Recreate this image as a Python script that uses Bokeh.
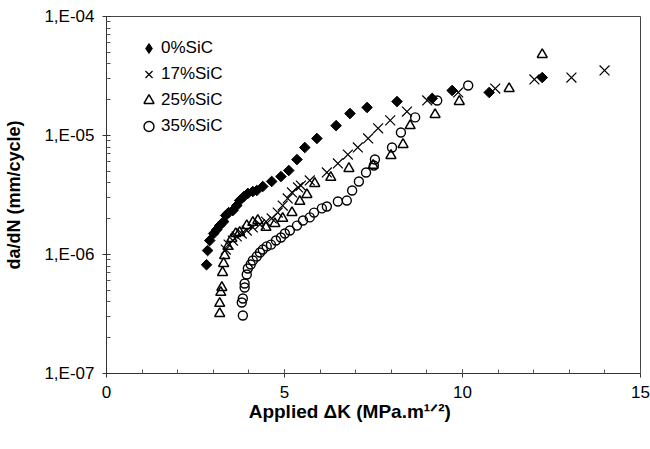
import math
from bokeh.plotting import figure
from bokeh.models import (Range1d, FixedTicker, CustomJSTickFormatter,
                          Legend, LegendItem, CDSView, IndexFilter)
from bokeh.embed import file_html
from bokeh.resources import INLINE

# ---- data ----
sic0_dk = [2.81, 2.84, 2.90, 3.01, 3.10, 3.18, 3.29, 3.35, 3.43, 3.55, 3.66, 3.74,
           3.86, 3.97, 4.11, 4.22, 4.39, 4.64, 4.90, 5.12, 5.35, 5.57, 5.91, 6.45,
           6.84, 7.32, 8.16, 9.15, 9.71, 10.75, 12.24]
sic0_dadn = [8.2e-7, 1.08e-6, 1.31e-6, 1.50e-6, 1.62e-6, 1.75e-6, 1.89e-6, 2.13e-6,
             2.25e-6, 2.34e-6, 2.58e-6, 2.84e-6, 3.07e-6, 3.26e-6, 3.38e-6, 3.45e-6,
             3.73e-6, 4.11e-6, 4.52e-6, 5.08e-6, 6.28e-6, 7.93e-6, 9.44e-6, 1.21e-5,
             1.53e-5, 1.72e-5, 1.93e-5, 2.05e-5, 2.39e-5, 2.30e-5, 3.07e-5]

sic17_dk = [3.35, 3.43, 3.55, 3.66, 3.80, 3.94, 4.11, 4.31, 4.48, 4.64, 4.81, 4.95,
            5.09, 5.21, 5.38, 5.46, 5.71, 6.19, 6.50, 6.78, 7.06, 7.35, 7.63, 7.97,
            8.44, 9.01, 9.88, 10.92, 12.02, 13.06, 13.99]
sic17_dadn = [1.10e-6, 1.21e-6, 1.31e-6, 1.42e-6, 1.50e-6, 1.59e-6, 1.69e-6, 1.79e-6,
              1.89e-6, 2.01e-6, 2.25e-6, 2.58e-6, 2.96e-6, 3.32e-6, 3.66e-6, 3.80e-6,
              4.19e-6, 4.89e-6, 5.82e-6, 6.92e-6, 7.93e-6, 9.44e-6, 1.15e-5, 1.34e-5,
              1.59e-5, 1.97e-5, 2.30e-5, 2.48e-5, 2.96e-5, 3.07e-5, 3.52e-5]

sic25_dk = [3.18, 3.18, 3.21, 3.24, 3.26, 3.29, 3.32, 3.41, 3.52, 3.63, 3.74, 3.94,
            4.11, 4.25, 4.48, 4.73, 4.95, 5.21, 5.43, 5.63, 5.85, 6.30, 6.81, 7.49,
            7.99, 8.33, 8.53, 9.23, 9.91, 11.31, 12.24]
sic25_dadn = [3.19e-7, 3.88e-7, 4.80e-7, 5.28e-7, 7.06e-7, 8.40e-7, 9.81e-7, 1.17e-6,
              1.36e-6, 1.50e-6, 1.53e-6, 1.75e-6, 1.86e-6, 1.93e-6, 1.69e-6, 1.82e-6,
              2.01e-6, 2.25e-6, 2.79e-6, 3.19e-6, 3.95e-6, 4.44e-6, 5.28e-6, 5.60e-6,
              6.79e-6, 8.40e-6, 1.21e-5, 1.50e-5, 1.93e-5, 2.48e-5, 4.79e-5]

sic35_dk = [3.83, 3.80, 3.83, 3.88, 3.88, 3.94, 3.97, 4.05, 4.11, 4.22, 4.31, 4.39,
            4.50, 4.62, 4.76, 4.90, 5.01, 5.15, 5.35, 5.52, 5.71, 5.83, 6.05, 6.19,
            6.50, 6.75, 6.90, 7.09, 7.29, 7.51, 7.54, 8.02, 8.27, 8.67, 9.29, 10.16]
sic35_dadn = [3.07e-7, 3.95e-7, 4.27e-7, 5.28e-7, 5.71e-7, 6.79e-7, 7.63e-7, 8.24e-7,
              8.91e-7, 9.62e-7, 1.04e-6, 1.10e-6, 1.17e-6, 1.21e-6, 1.31e-6, 1.39e-6,
              1.50e-6, 1.59e-6, 1.75e-6, 1.93e-6, 2.05e-6, 2.25e-6, 2.44e-6, 2.53e-6,
              2.79e-6, 2.84e-6, 3.45e-6, 4.11e-6, 4.89e-6, 5.60e-6, 6.28e-6, 7.93e-6,
              1.06e-5, 1.42e-5, 1.97e-5, 2.63e-5]

x_ticks = [0, 5, 10, 15]
y_ticks = [1e-7, 1e-6, 1e-5, 1e-4]
series_names = ["0%SiC", "17%SiC", "25%SiC", "35%SiC"]
x_title = "Applied \u0394K (MPa.m\u00b9\u141f\u00b2)"
y_title = "da/dN (mm/cycle)"

FONT = "Liberation Sans"

p = figure(width=650, height=449, x_range=Range1d(0, 15), y_range=Range1d(1e-7, 1e-4),
           y_axis_type="log", output_backend="svg", toolbar_location=None,
           min_border_left=106, min_border_right=10, min_border_top=16, min_border_bottom=76)

p.xgrid.visible = False
p.ygrid.visible = False
p.outline_line_color = "#444444"
p.background_fill_color = "white"
p.border_fill_color = "white"

p.xaxis.ticker = FixedTicker(ticks=x_ticks, minor_ticks=list(range(0, 16)))
p.yaxis.ticker = FixedTicker(ticks=y_ticks,
                             minor_ticks=[k * 10.0 ** e for e in (-7, -6, -5) for k in range(2, 10)])
p.yaxis.formatter = CustomJSTickFormatter(
    code="const e = Math.round(Math.log10(tick)); return '1,E-' + String(-e).padStart(2, '0');")

for ax in (p.xaxis[0], p.yaxis[0]):
    ax.axis_line_color = "#333333"
    ax.major_tick_line_color = "#333333"
    ax.minor_tick_line_color = "#555555"
    ax.major_tick_in = 4
    ax.major_tick_out = 4
    ax.minor_tick_in = 4
    ax.minor_tick_out = 0
    ax.major_label_text_font = FONT
    ax.major_label_text_font_size = "17px"
    ax.major_label_text_color = "black"
    ax.major_label_standoff = 8
    ax.axis_label_text_font = FONT
    ax.axis_label_text_font_style = "bold"
    ax.axis_label_text_color = "black"

p.yaxis.axis_label = y_title
p.yaxis.axis_label_text_font_size = "18px"
p.yaxis.axis_label_standoff = 17

p.xaxis.axis_label = x_title + "\u00a0" * 9
p.xaxis.axis_label_text_font_size = "19px"
p.xaxis.axis_label_standoff = 0

r0 = p.scatter(sic0_dk, sic0_dadn, marker="square", angle=math.pi / 4, size=7.5,
               fill_color="black", line_color="black")
# legend swatch for the 0%SiC series (legend glyphs are never rotated, so use a diamond);
# it shows only the first point, small enough to sit hidden inside that point's marker
r0_key = p.scatter(sic0_dk, sic0_dadn, marker="diamond", size=6, fill_color="black",
                   line_color="black", view=CDSView(filter=IndexFilter(indices=[0])))
r1 = p.scatter(sic17_dk, sic17_dadn, marker="x", size=14, line_color="black", line_width=1.2)
r2 = p.scatter(sic25_dk, sic25_dadn, marker="triangle", size=10, fill_color=None,
               line_color="black", line_width=1.5)
r3 = p.scatter(sic35_dk, sic35_dadn, marker="circle", size=9, fill_color=None,
               line_color="black", line_width=1.4)

legend = Legend(items=[LegendItem(label=n, renderers=[r]) for n, r in
                       zip(series_names, [r0_key, r1, r2, r3])],
                location=(30, 234))
legend.border_line_color = None
legend.background_fill_alpha = 0
legend.padding = 0
legend.margin = 0
legend.spacing = 0
legend.glyph_width = 25
legend.glyph_height = 26
legend.label_height = 26
legend.label_standoff = 0
legend.label_text_font = FONT
legend.label_text_font_size = "17px"
legend.label_text_color = "black"
p.add_layout(legend)

open("out.html", "w").write(file_html(p, INLINE))
